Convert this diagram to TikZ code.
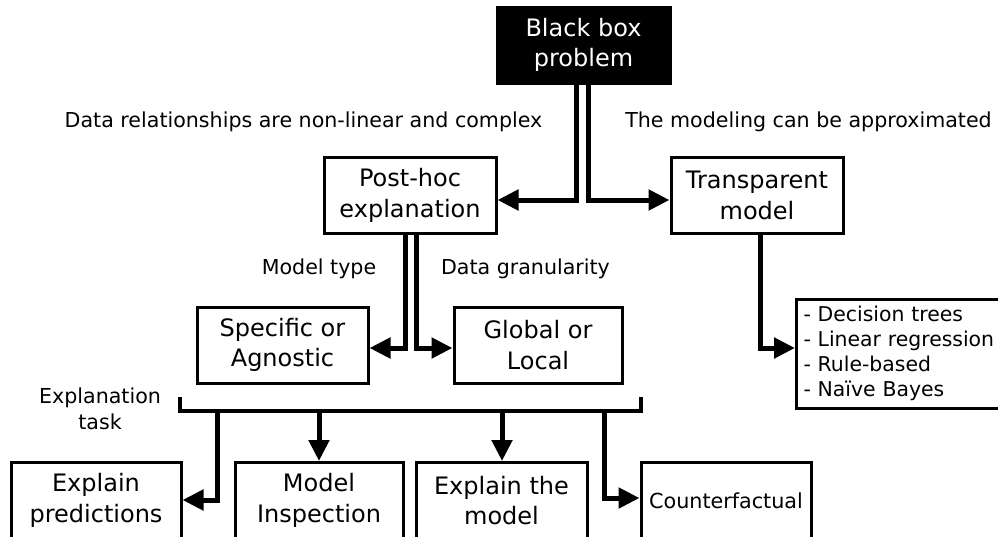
\documentclass[tikz,border=0pt]{standalone}
\usepackage{fontspec}
\setmainfont{DejaVu Sans}
\usetikzlibrary{arrows.meta,calc}
\begin{document}
\begin{tikzpicture}[x=1pt,y=-1pt,
  box/.style={draw, line width=3pt, align=center, inner sep=0pt,
    minimum width=170pt, minimum height=76pt,
    font=\fontsize{24}{30.5}\selectfont},
  small/.style={font=\fontsize{20.6}{25.5}\selectfont, align=center, inner sep=0pt},
  conn/.style={line width=5pt, line join=miter,
    -{Triangle[length=21pt,width=20pt]}},
  bracket/.style={line width=3.5pt, line join=miter}]
\useasboundingbox (0,0) rectangle (998,536);

% top problem box
\node[box, fill=black, text=white, minimum width=173pt, minimum height=76pt]
  (bb) at (583.5,45) {Black box\\problem};

% first level
\node[box, minimum width=172pt, minimum height=76pt] (ph) at (410,195.5) {Post-hoc\\explanation};
\node[box, minimum width=172pt, minimum height=76pt] (tr) at (757,195.5) {Transparent\\model};

\node[small] (l1) at (303.5,122) {Data relationships are non-linear and complex};
\node[small] (l2) at (808.5,122) {The modeling can be approximated};

% second level
\node[box, minimum width=171pt] (sa) at (282.5,345) {Specific or\\Agnostic};
\node[box, minimum width=168pt] (gl) at (538,345) {Global or\\Local};
\node[small] (l3) at (319,269) {Model type};
\node[small] (l4) at (525.5,269) {Data granularity};

% transparent model examples
\node[draw, line width=3pt, anchor=west, align=left, text width=205pt,
  inner xsep=7pt, inner ysep=0pt, minimum height=109pt,
  font=\fontsize{20.4}{24.8}\selectfont]
  (ls) at (795,353.5) {- Decision trees\\- Linear regression\\- Rule-based\\- Naïve Bayes};

% explanation task bracket
\node[small] (l5) at (100,409) {Explanation\\task};
\coordinate (bl) at (180,397);
\coordinate (br) at (641,397);
\draw[bracket] (bl) -- (180,411) -- (641,411) -- (br);
\coordinate (t1) at (217.5,411);
\coordinate (t2) at (319,411);
\coordinate (t3) at (502,411);
\coordinate (t4) at (604,411);

% bottom level
\node[box] (ep) at (96,500.5) {Explain\\predictions};
\node[box, minimum width=168pt] (mi) at (319,500.5) {Model\\Inspection};
\node[box, minimum width=171pt] (em) at (501.5,500.5) {Explain the\\model};
\node[box, font=\fontsize{20.7}{25}\selectfont] (cf) at (726,500.5) {Counterfactual};

% connectors
\draw[conn] ($(bb.south)+(-7.5,0)$) |- ($(ph.east)+(0,4.5)$);
\draw[conn] ($(bb.south)+(5,0)$) |- ($(tr.west)+(0,4.5)$);
\draw[conn] ($(ph.south)+(-4.5,0)$) |- ($(sa.east)+(0,3)$);
\draw[conn] ($(ph.south)+(6.5,0)$) |- ($(gl.west)+(0,3)$);
\draw[conn] ($(tr.south)+(3,0)$) |- ($(ls.west)+(0,-5.5)$);

\draw[conn] (t1) |- ($(ep.east)+(0,-0.5)$);
\draw[conn] (t2) -- (mi.north);
\draw[conn] (t3) -- (em.north -| t3);
\draw[conn] (t4) |- ($(cf.west)+(0,-2.5)$);
\end{tikzpicture}
\end{document}
